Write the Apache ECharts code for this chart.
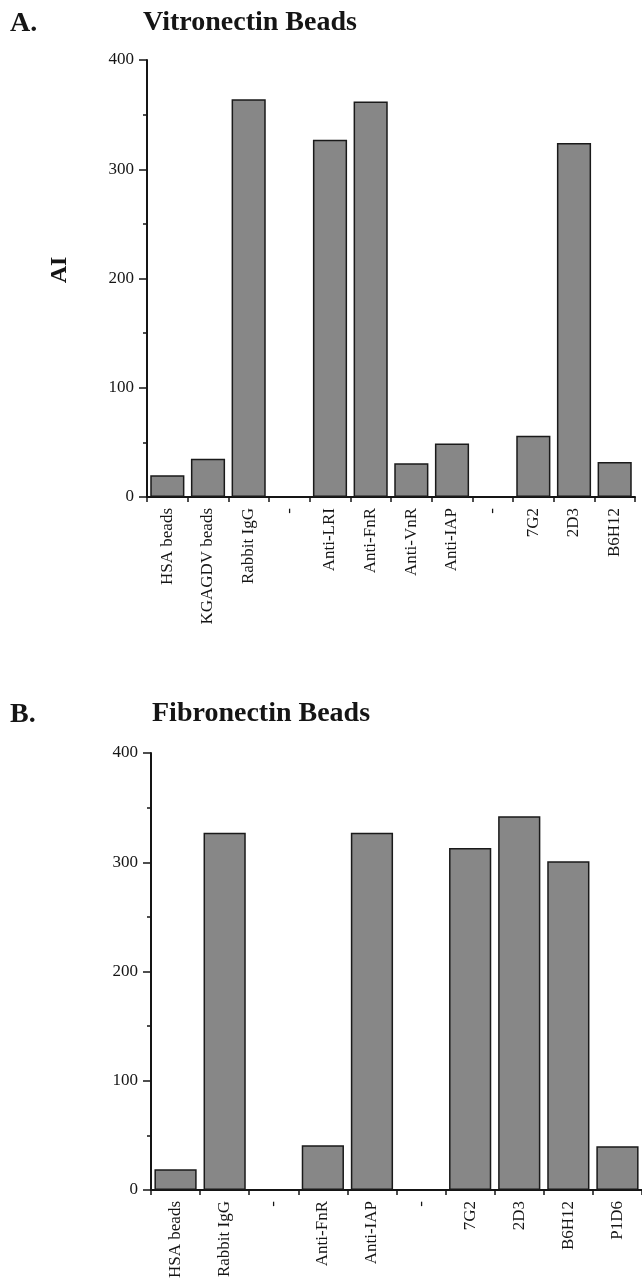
<!DOCTYPE html>
<html>
<head>
<meta charset="utf-8">
<script src="https://cdn.jsdelivr.net/npm/echarts@6/dist/echarts.min.js"></script>
<style>
html,body{margin:0;padding:0;background:#fff;}
#c{width:642px;height:1281px;}
</style>
</head>
<body>
<div id="c"></div>
<script>
// Panel A: Vitronectin Beads
const categoriesA = ['HSA beads','KGAGDV beads','Rabbit IgG','-','Anti-LRI','Anti-FnR','Anti-VnR','Anti-IAP','-','7G2','2D3','B6H12'];
const valuesA = [20, 35, 364, null, 327, 362, 31, 49, null, 56, 324, 32];
// Panel B: Fibronectin Beads
const categoriesB = ['HSA beads','Rabbit IgG','-','Anti-FnR','Anti-IAP','-','7G2','2D3','B6H12','P1D6'];
const valuesB = [19, 327, null, 41, 327, null, 313, 342, 301, 40];
const yMin = 0, yMax = 400, yStep = 100;

const SERIF = '"Liberation Serif", "DejaVu Serif", serif';
const INK = '#151515';

function xAxisFor(idx, cats){
  return {
    type:'category', gridIndex: idx, data: cats,
    axisLine:{show:true, lineStyle:{color:INK, width:2}},
    axisTick:{show:true, length:5, lineStyle:{color:INK, width:1.5}},
    axisLabel:{rotate:90, interval:0, margin:11, fontFamily:SERIF, fontSize:17, color:INK},
    splitLine:{show:false}
  };
}
function yAxisFor(idx){
  return {
    type:'value', gridIndex: idx, min:yMin, max:yMax, interval:yStep,
    axisLine:{show:true, lineStyle:{color:INK, width:2}},
    axisTick:{show:true, length:8, lineStyle:{color:INK, width:1.5}},
    minorTick:{show:true, splitNumber:2, length:4, lineStyle:{color:INK, width:1.5}},
    axisLabel:{margin:13, fontFamily:SERIF, fontSize:17, color:INK},
    splitLine:{show:false}, minorSplitLine:{show:false}
  };
}
const barStyle = {color:'#878787', borderColor:'#1a1a1a', borderWidth:1.5};

const chart = echarts.init(document.getElementById('c'), null, {renderer:'canvas'});
chart.setOption({
  animation:false,
  backgroundColor:'#fff',
  grid:[
    {left:147, top:60, width:488, height:437},
    {left:151, top:753, width:491, height:437}
  ],
  xAxis:[xAxisFor(0, categoriesA), xAxisFor(1, categoriesB)],
  yAxis:[yAxisFor(0), yAxisFor(1)],
  series:[
    {type:'bar', xAxisIndex:0, yAxisIndex:0, data:valuesA, barCategoryGap:'16%', itemStyle:barStyle},
    {type:'bar', xAxisIndex:1, yAxisIndex:1, data:valuesB, barCategoryGap:'14%', itemStyle:barStyle}
  ],
  graphic:[
    {type:'text', left:10, top:10, style:{text:'A.', font:'bold 28px '+SERIF, fill:INK}},
    {type:'text', left:143, top:9, style:{text:'Vitronectin Beads', font:'bold 28px '+SERIF, fill:INK}},
    {type:'text', left:10, top:701, style:{text:'B.', font:'bold 28px '+SERIF, fill:INK}},
    {type:'text', left:152, top:700, style:{text:'Fibronectin Beads', font:'bold 28px '+SERIF, fill:INK}},
    {type:'text', x:60, y:270, rotation:Math.PI/2, style:{text:'AI', font:'bold 24px '+SERIF, fill:INK, align:'center', verticalAlign:'middle'}}
  ]
});
</script>
</body>
</html>
